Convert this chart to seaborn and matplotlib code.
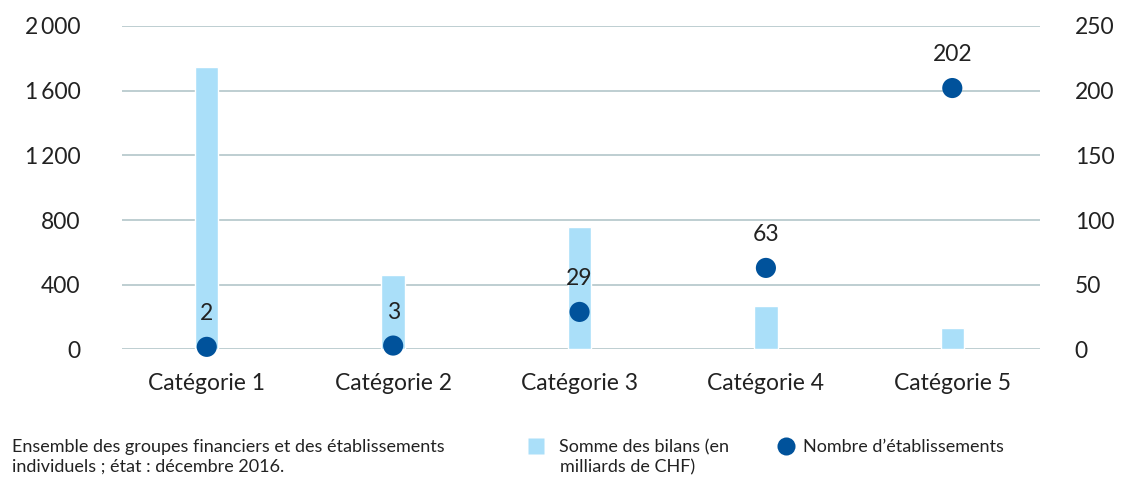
import pandas as pd
import seaborn as sns
import matplotlib.pyplot as plt
from matplotlib.lines import Line2D
from matplotlib.ticker import FuncFormatter

categories = ['Catégorie 1', 'Catégorie 2', 'Catégorie 3', 'Catégorie 4', 'Catégorie 5']
bilans = [1745, 463, 759, 266, 135]
nombre = [2, 3, 29, 63, 202]

bar_color = '#aadff9'
dot_color = '#00529b'
grid_color = '#b3c6c9'
txt = '#222222'

df = pd.DataFrame({'cat': categories, 'bilans': bilans, 'nombre': nombre})

sns.set_style('white')
plt.rcParams['font.family'] = ['Lato', 'DejaVu Sans']

fig = plt.figure(figsize=(11.23, 4.8), dpi=100)
ax = fig.add_axes([0.1086, 0.272, 0.8174, 0.674])

sns.barplot(data=df, x='cat', y='bilans', color=bar_color, width=0.125,
            saturation=1, ax=ax, zorder=2)
ax.set_ylim(0, 2000)
ax.set_yticks(range(0, 2001, 400))
ax.yaxis.set_major_formatter(FuncFormatter(lambda v, p: f'{int(v):,}'.replace(',', '\u2009')))
ax.grid(axis='y', color=grid_color, linewidth=1.2, zorder=0)
ax.set_axisbelow(True)
ax.set_xlim(-0.455, 4.47)
ax.set_xlabel('')
ax.set_ylabel('')
ax.tick_params(axis='y', length=0, pad=30, labelsize=16.5, colors=txt)
ax.tick_params(axis='x', length=0, pad=17, labelsize=16.5, colors=txt)
for s in ax.spines.values():
    s.set_visible(False)

ax2 = ax.twinx()
sns.scatterplot(data=df, x='cat', y='nombre', color=dot_color, s=210,
                edgecolor='none', ax=ax2, zorder=3, clip_on=False)
ax2.set_ylim(0, 250)
ax2.set_yticks(range(0, 251, 50))
ax2.set_ylabel('')
ax2.tick_params(axis='y', length=0, pad=25, labelsize=16.5, colors=txt)
for s in ax2.spines.values():
    s.set_visible(False)
for i, v in enumerate(nombre):
    ax2.annotate(str(v), (i, v), xytext=(0, 24), textcoords='offset points',
                 ha='center', va='center', fontsize=16.5, color=txt)

fs = 13
fig.text(12 / 1123, 1 - 457 / 480,
         'Ensemble des groupes financiers et des établissements\nindividuels ; état : décembre 2016.',
         fontsize=fs, color=txt, va='center', linespacing=1.3)

h1 = [Line2D([], [], marker='s', linestyle='none', markersize=11,
             markerfacecolor=bar_color, markeredgecolor='none')]
h2 = [Line2D([], [], marker='o', linestyle='none', markersize=13,
             markerfacecolor=dot_color, markeredgecolor='none')]
fig.legend(h1, ['Somme des bilans (en'], loc='center left',
           bbox_to_anchor=(522 / 1123, 1 - 447 / 480), frameon=False, fontsize=fs,
           handlelength=0.8, handletextpad=0.85, labelcolor=txt, borderaxespad=0)
fig.text(560 / 1123, 1 - 467 / 480, 'milliards de CHF)', fontsize=fs, color=txt, va='center')
fig.legend(h2, ['Nombre d\u2019établissements'], loc='center left',
           bbox_to_anchor=(772 / 1123, 1 - 447 / 480), frameon=False, fontsize=fs,
           handlelength=0.8, handletextpad=0.5, labelcolor=txt, borderaxespad=0)

fig.savefig('out.png', dpi=100)
